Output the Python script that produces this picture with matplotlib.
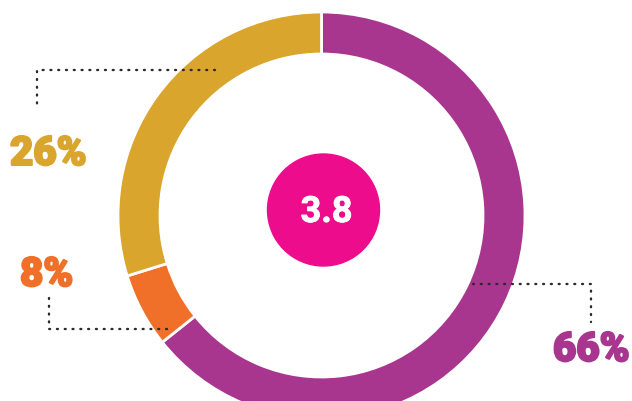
import matplotlib
matplotlib.use("Agg")
import matplotlib.pyplot as plt
import matplotlib.patheffects as pe

# slice data, clockwise from 12 o'clock
labels = ["66%", "8%", "26%"]
shares = [64.3, 5.9, 29.8]   # arc sizes as drawn in the reference
colors = ["#A8368F", "#F07029", "#DAA52C"]
center_value = "3.8"

W, H = 632, 402
fig = plt.figure(figsize=(W / 100, H / 100), dpi=100)
ax = fig.add_axes([0, 0, 1, 1])

cx, cy = 321.5, H - 216.5
r_out, ring = 203.5, 42

ax.pie(shares, colors=colors, startangle=90, counterclock=False,
       center=(cx, cy), radius=r_out,
       wedgeprops=dict(width=ring, edgecolor="white", linewidth=2))

# center disc
ax.add_patch(plt.Circle((cx + 2, H - 211), 56, color="#EC0C8C", zorder=3))
ax.text(cx + 5, H - 223, center_value, color="white", fontsize=26,
        fontweight="bold", family="Roboto", ha="center", va="baseline", zorder=4,
        path_effects=[pe.withStroke(linewidth=0.6, foreground="white")])

# leader lines (pixel coords from top-left) and label positions
leaders = [
    [(215, 71), (37, 71), (37, 110)],
    [(167, 330), (49, 330), (49, 294)],
    [(473, 285), (591, 285), (591, 323)],
]
label_pos = [(553, 362), (20, 287), (10, 166)]

for pts in leaders:
    xs = [p[0] for p in pts]
    ys = [H - p[1] for p in pts]
    ax.plot(xs, ys, color="#2a2a2a", lw=1.7, linestyle=(0, (0.4, 2.9)),
            dash_capstyle="round", solid_capstyle="round", zorder=5)

for lab, col, (x, y) in zip(labels, colors, label_pos):
    ax.text(x, H - y, lab, color=col, fontsize=29, fontweight="black",
            family="Roboto", ha="left", va="baseline",
            path_effects=[pe.withStroke(linewidth=1.5, foreground=col)])

ax.set_xlim(0, W)
ax.set_ylim(0, H)
ax.set_aspect("equal")
ax.axis("off")

fig.savefig("out.png", dpi=100)
